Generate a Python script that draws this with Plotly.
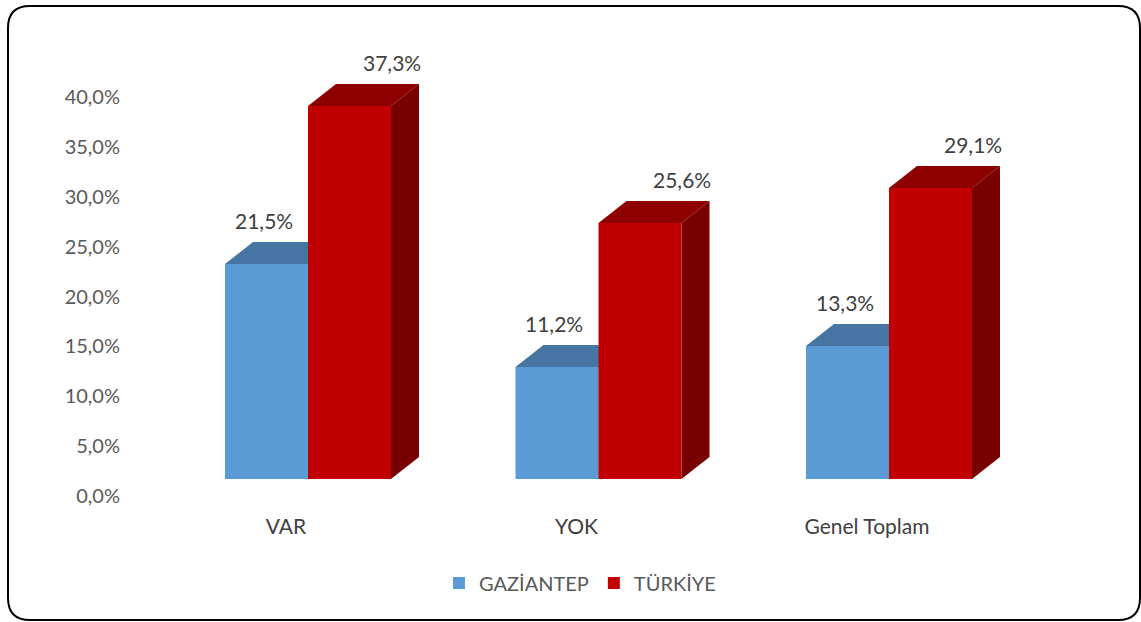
import plotly.graph_objects as go

categories = ["VAR", "YOK", "Genel Toplam"]
gaziantep = [21.5, 11.2, 13.3]
turkiye = [37.3, 25.6, 29.1]
series_names = ["GAZİANTEP", "TÜRKİYE"]
tick_values = [0, 5, 10, 15, 20, 25, 30, 35, 40]

def fmt(v):
    return f"{v:.1f}".replace(".", ",") + "%"

W, H = 1141, 622
L, R, T, B = 124, 1110, 40, 512
PXU = 290.5                      # pixels per category unit
x0 = -(308 - L) / PXU
x1 = x0 + (R - L) / PXU
bw = 83 / PXU                    # bar width in x units
dx = 28 / PXU                    # depth offset (x)
dy = 2.2                         # depth offset (y2 units, 10 px per %)

# left axis (labels): 0 -> 496 px, 9.975 px per %
YPX = 9.975
yl_lo = -(B - 496) / YPX
yl_hi = (496 - T) / YPX
# bar axis: 0 -> 479 px, 10 px per %
y2_lo = -(B - 479) / 10
y2_hi = (479 - T) / 10

xs = list(range(len(categories)))
colors = {"front": ["#5B9BD5", "#C00000"],
          "top": ["#4675A3", "#8E0000"],
          "side": ["#3B6188", "#780000"]}

fig = go.Figure()
# invisible trace on the left axis so it shows ticks
fig.add_trace(go.Scatter(x=[x0], y=[0], mode="markers", marker=dict(opacity=0),
                         showlegend=False, hoverinfo="skip", yaxis="y"))

shapes = []
annotations = []
for si, vals in enumerate([gaziantep, turkiye]):
    offset = -bw if si == 0 else 0
    fig.add_trace(go.Bar(x=xs, y=vals, width=bw, offset=offset, name=series_names[si],
                         marker=dict(color=colors["front"][si], line=dict(width=0)),
                         yaxis="y2"))
    for i, v in zip(xs, vals):
        a = i + offset
        b = a + bw
        # top face
        shapes.append(dict(type="path", xref="x", yref="y2", layer="below",
                           path=f"M{a},{v} L{b},{v} L{b+dx},{v+dy} L{a+dx},{v+dy} Z",
                           fillcolor=colors["top"][si], line=dict(width=0)))
        # side face
        shapes.append(dict(type="path", xref="x", yref="y2", layer="below",
                           path=f"M{b},0 L{b+dx},{dy} L{b+dx},{v+dy} L{b},{v} Z",
                           fillcolor=colors["side"][si], line=dict(width=0)))
        annotations.append(dict(x=a + bw / 2, y=v, xref="x", yref="y2", text=fmt(v),
                                showarrow=False, yanchor="middle", yshift=44,
                                xshift=(-3 if si == 0 else 42),
                                font=dict(family="Lato", size=21, color="#404040")))

# rounded border in paper coords
def px(xp):
    return (xp - L) / (R - L)

def py(yp):
    return (B - yp) / (B - T)

bl, br, bt, bb, r = 8, 1140, 6, 620, 22
border = (f"M{px(bl+r)},{py(bt)} L{px(br-r)},{py(bt)} Q{px(br)},{py(bt)} {px(br)},{py(bt+r)} "
          f"L{px(br)},{py(bb-r)} Q{px(br)},{py(bb)} {px(br-r)},{py(bb)} "
          f"L{px(bl+r)},{py(bb)} Q{px(bl)},{py(bb)} {px(bl)},{py(bb-r)} "
          f"L{px(bl)},{py(bt+r)} Q{px(bl)},{py(bt)} {px(bl+r)},{py(bt)} Z")
shapes.append(dict(type="path", xref="paper", yref="paper", path=border,
                   line=dict(color="#000000", width=2), layer="above"))

fig.update_layout(
    width=W, height=H,
    margin=dict(l=L, r=W - R, t=T, b=H - B),
    paper_bgcolor="white", plot_bgcolor="rgba(0,0,0,0)",
    barmode="overlay",
    font=dict(family="Lato", size=20, color="#595959"),
    xaxis=dict(range=[x0, x1], tickmode="array", tickvals=[i - 22 / PXU for i in xs],
               ticktext=categories, showgrid=False, zeroline=False, showline=False,
               ticks="", tickfont=dict(family="Lato", size=21, color="#404040")),
    yaxis=dict(range=[yl_lo, yl_hi], tickmode="array", tickvals=tick_values,
               ticktext=[fmt(v) for v in tick_values], showgrid=False, zeroline=False,
               showline=False, ticks="", ticklabelstandoff=3,
               tickfont=dict(family="Lato", size=20, color="#595959")),
    yaxis2=dict(range=[y2_lo, y2_hi], overlaying="y", visible=False),
    legend=dict(orientation="h", x=px(580), xanchor="center", y=py(583), yanchor="middle",
                font=dict(family="Lato", size=20, color="#595959"), itemwidth=30,
                traceorder="normal"),
    shapes=shapes,
    annotations=annotations,
)

fig.write_html("out.html", config={"displayModeBar": False},
               post_script="document.body.style.margin='0';")
